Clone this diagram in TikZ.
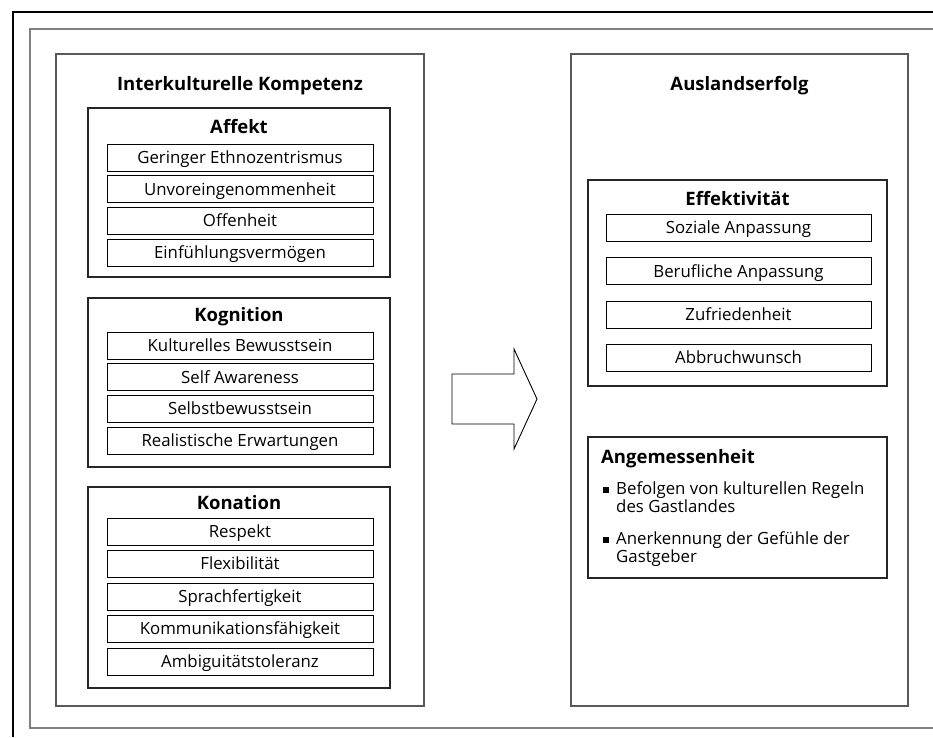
\documentclass[tikz,border=0pt]{standalone}
\usepackage{fontspec}
\setmainfont{Open Sans}
\usetikzlibrary{positioning}

\begin{document}
\begin{tikzpicture}[x=1pt,y=-1pt,
  bigbox/.style={draw=black!65,line width=1.4pt,minimum width=#1,minimum height=652pt,inner sep=0pt},
  grp/.style={draw=black!85,line width=1.1pt,minimum width=302pt,inner sep=0pt},
  itm/.style={draw,line width=1pt,minimum width=266pt,minimum height=27pt,inner sep=0pt,
              text height=14pt,text depth=2.2pt,font=\fontsize{16.8}{19}\selectfont},
  ttl/.style={anchor=base,inner sep=0pt,font=\fontsize{18.5}{20}\selectfont\bfseries},
  bul/.style={fill=black,minimum size=6.5pt,inner sep=0pt},
  btxt/.style={anchor=north west,align=left,inner sep=0pt,font=\fontsize{16.8}{18.5}\selectfont}
]
  \useasboundingbox (0,0) rectangle (933,737);
  % frames
  \draw[line width=2.2pt] (13,737) -- (13,12) -- (933,12);
  \draw[draw=black!50,line width=1.2pt] (933,29) -- (30,29) -- (30,728) -- (933,728);

  % left side
  \node[bigbox=368pt] (ikk) at (240,380) {};
  \node[ttl] (ikkT) at (240,90) {Interkulturelle Kompetenz};

  \node[grp,minimum height=169pt] (aff) at (239,192.5) {};
  \node[ttl] (affT) at (239,133) {Affekt};
  \node[itm] (aff1) at (240,157.5) {Geringer Ethnozentrismus};
  \node[itm,below=3.7pt of aff1] (aff2) {Unvoreingenommenheit};
  \node[itm,below=3.7pt of aff2] (aff3) {Offenheit};
  \node[itm,below=3.7pt of aff3] (aff4) {Einfühlungsvermögen};

  \node[grp,minimum height=169pt] (kog) at (239,382.5) {};
  \node[ttl] (kogT) at (239,321.5) {Kognition};
  \node[itm] (kog1) at (240,345.5) {Kulturelles Bewusstsein};
  \node[itm,below=3.7pt of kog1] (kog2) {Self Awareness};
  \node[itm,below=3.7pt of kog2] (kog3) {Selbstbewusstsein};
  \node[itm,below=3.7pt of kog3] (kog4) {Realistische Erwartungen};

  \node[grp,minimum height=201pt] (kon) at (239,587.5) {};
  \node[ttl] (konT) at (239,509) {Konation};
  \node[itm] (kon1) at (240,531.5) {Respekt};
  \node[itm,below=4.5pt of kon1] (kon2) {Flexibilität};
  \node[itm,below=4.5pt of kon2] (kon3) {Sprachfertigkeit};
  \node[itm,below=4.5pt of kon3] (kon4) {Kommunikationsfähigkeit};
  \node[itm,below=4.5pt of kon4] (kon5) {Ambiguitätstoleranz};

  % arrow
  \draw[line width=0.9pt] (452,374) -- (514,374) -- (514,349) -- (537,399)
    -- (514,449) -- (514,424) -- (452,424) -- cycle;

  % right side
  \node[bigbox=337pt] (erf) at (739.5,380) {};
  \node[ttl] (erfT) at (739.5,90) {Auslandserfolg};

  \node[grp,minimum width=299pt,minimum height=206pt] (eff) at (737.5,283) {};
  \node[ttl] (effT) at (737.5,205) {Effektivität};
  \node[itm,minimum width=265pt] (eff1) at (738.5,228) {Soziale Anpassung};
  \node[itm,minimum width=265pt,below=15.3pt of eff1] (eff2) {Berufliche Anpassung};
  \node[itm,minimum width=265pt,below=15.3pt of eff2] (eff3) {Zufriedenheit};
  \node[itm,minimum width=265pt,below=15.3pt of eff3] (eff4) {Abbruchwunsch};

  \node[grp,minimum width=299pt,minimum height=141pt] (ang) at (737.5,507.5) {};
  \node[ttl,anchor=base west] (angT) at (601,463) {Angemessenheit};
  \node[bul] (ang1b) at (606,490) {};
  \node[btxt] (ang1) at (616,481) {Befolgen von kulturellen Regeln\\des Gastlandes};
  \node[bul] (ang2b) at (606,540) {};
  \node[btxt] (ang2) at (616,531) {Anerkennung der Gefühle der\\Gastgeber};
\end{tikzpicture}
\end{document}
